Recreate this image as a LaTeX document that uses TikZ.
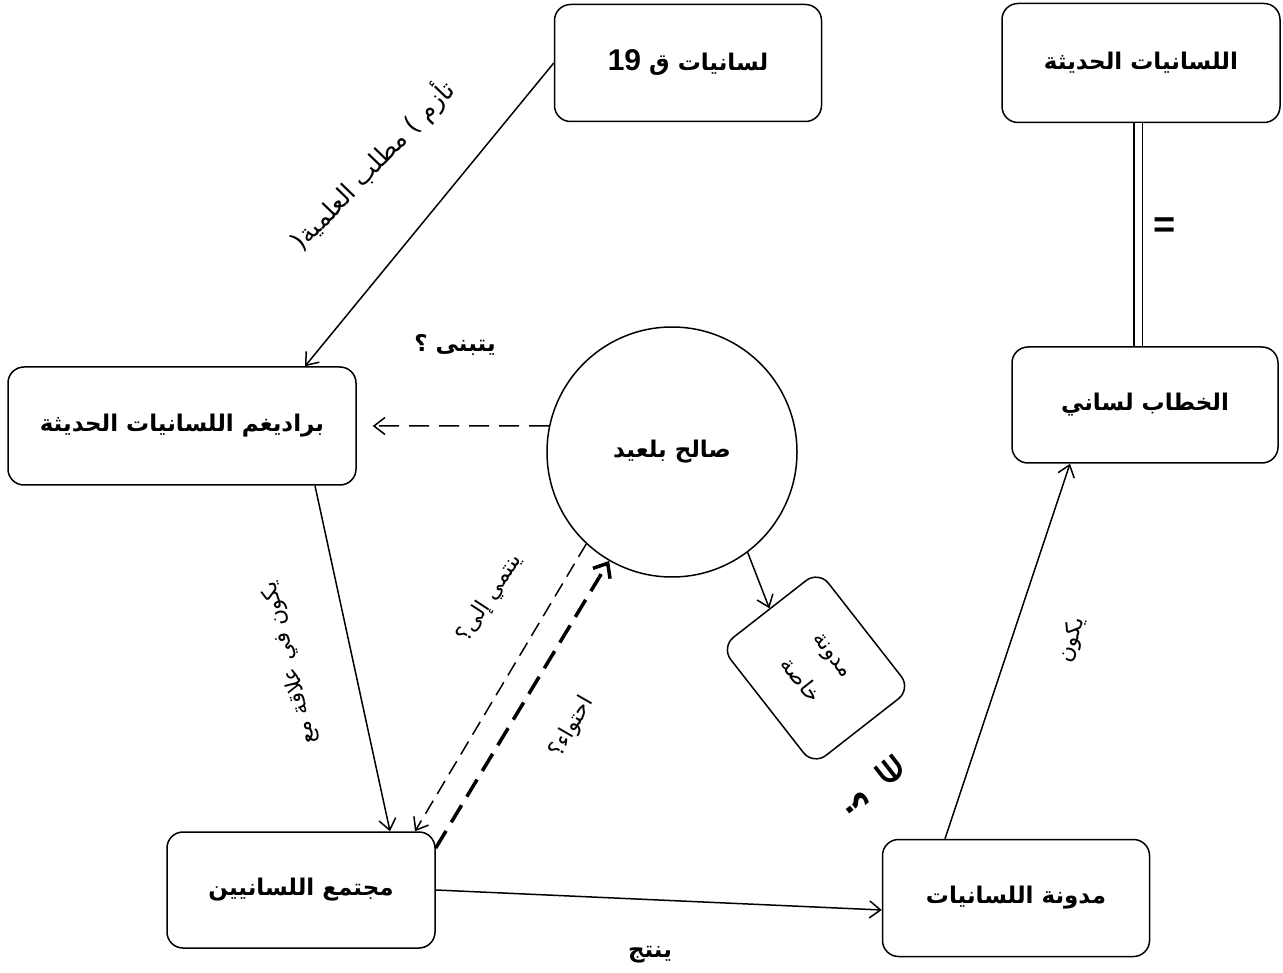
\documentclass[tikz,border=0pt]{standalone}
\usepackage{fontspec}
\newfontfamily\arabicfont[Script=Arabic]{DejaVu Sans}
\newfontfamily\latinfont{Liberation Sans}
\TeXXeTstate=1
\usetikzlibrary{arrows.meta}

\begin{document}
\begin{tikzpicture}[x=1pt,y=-1pt,
    box/.style={draw,line width=1.5pt,rounded corners=16pt,minimum width=267pt,minimum height=117pt,font=\arabicfont\bfseries\fontsize{23}{27}\selectfont},
    arr/.style={line width=1.5pt,-{Straight Barb[length=11pt,width=17pt]}},
    lbl/.style={font=\arabicfont\fontsize{22}{30}\selectfont},
    blbl/.style={font=\arabicfont\bfseries\fontsize{23}{27}\selectfont}]
  \useasboundingbox (0,0) rectangle (1283,973);
  \node[box] (l19) at (688,63) {\beginR لسانيات ق \beginL{\latinfont\fontsize{30}{30}\selectfont 19}\endL\endR};
  \node[box,minimum width=278pt,minimum height=119pt] (ll) at (1141,63) {\beginR اللسانيات الحديثة\endR};
  \node[box,minimum width=348pt,minimum height=118pt] (par) at (182,426) {\beginR براديغم اللسانيات الحديثة\endR};
  \node[box,minimum width=266pt,minimum height=116pt] (kh) at (1145,405) {\beginR الخطاب لساني\endR};
  \node[box,minimum width=268pt,minimum height=116pt] (mc) at (301,890) {\beginR مجتمع اللسانيين\endR};
  \node[box] (md) at (1016,898) {\beginR مدونة اللسانيات\endR};
  \node[box,circle,rounded corners=0pt,minimum size=250pt] (sb) at (672,452) {\beginR صالح بلعيد\endR};
  \node[draw,line width=1.5pt,rounded corners=16pt,minimum width=150pt,minimum height=124pt,rotate=-52,align=center,font=\arabicfont\fontsize{22}{42}\selectfont] (mk) at (816,668) {\beginR مدونة\endR\\\beginR خاصة\endR};

  \draw[arr] (l19.west) -- ([xshift=123pt]par.north);
  \draw[arr,dash pattern=on 20pt off 10pt] (sb.168) -- ([xshift=16pt]par.east);
  \draw[arr] ([xshift=133pt]par.south) -- ([xshift=89pt]mc.north);
  \draw[arr,dash pattern=on 15pt off 8pt] (sb.227) -- ([xshift=114pt]mc.north);
  \draw[line width=3.5pt,dash pattern=on 20pt off 10pt,-{Straight Barb[length=12pt,width=20pt]}] ([yshift=42pt]mc.east) -- (sb.240);
  \draw[arr] (mc.east) -- ([yshift=-12pt]md.west);
  \draw[arr] (sb.-53) -- (mk.west);
  \draw[arr] ([xshift=-71pt]md.north) -- ([xshift=-75pt]kh.south);
  \draw[line width=1.5pt,double,double distance=7pt] ([xshift=-3pt]ll.south) -- ([xshift=-3pt]ll.south |- kh.north);

  \node[lbl,font=\arabicfont\fontsize{25}{30}\selectfont,rotate=46] (tz) at (372,165) {\beginR تأزم ) مطلب العلمية{}(\endR};
  \node[blbl] (tb) at (455,345) {\beginR يتبنى ؟\endR};
  \node[lbl,rotate=104] (yk) at (290,663) {\beginR يكون في علاقة مع\endR};
  \node[lbl,rotate=57] (yn) at (490,598) {\beginR ينتمي إلى؟\endR};
  \node[lbl,rotate=60] (ht) at (572,727) {\beginR احتواء؟\endR};
  \node[blbl] (nt) at (650,955) {\beginR ينتج\endR};
  \node[font=\latinfont\bfseries\fontsize{38}{38}\selectfont] (eq) at (1165,228) {=};
  \node[lbl,rotate=72] (tk) at (1072,640) {\beginR يكون\endR};
  \node[rotate=-52,font=\arabicfont\bfseries\fontsize{32}{32}\selectfont,inner sep=0pt] (in) at (891,771) {∈};
  \node[rotate=-52,font=\arabicfont\bfseries\fontsize{32}{32}\selectfont,inner sep=0pt] (qm) at (857,803) {\beginR ؟\endR};
\end{tikzpicture}
\end{document}
